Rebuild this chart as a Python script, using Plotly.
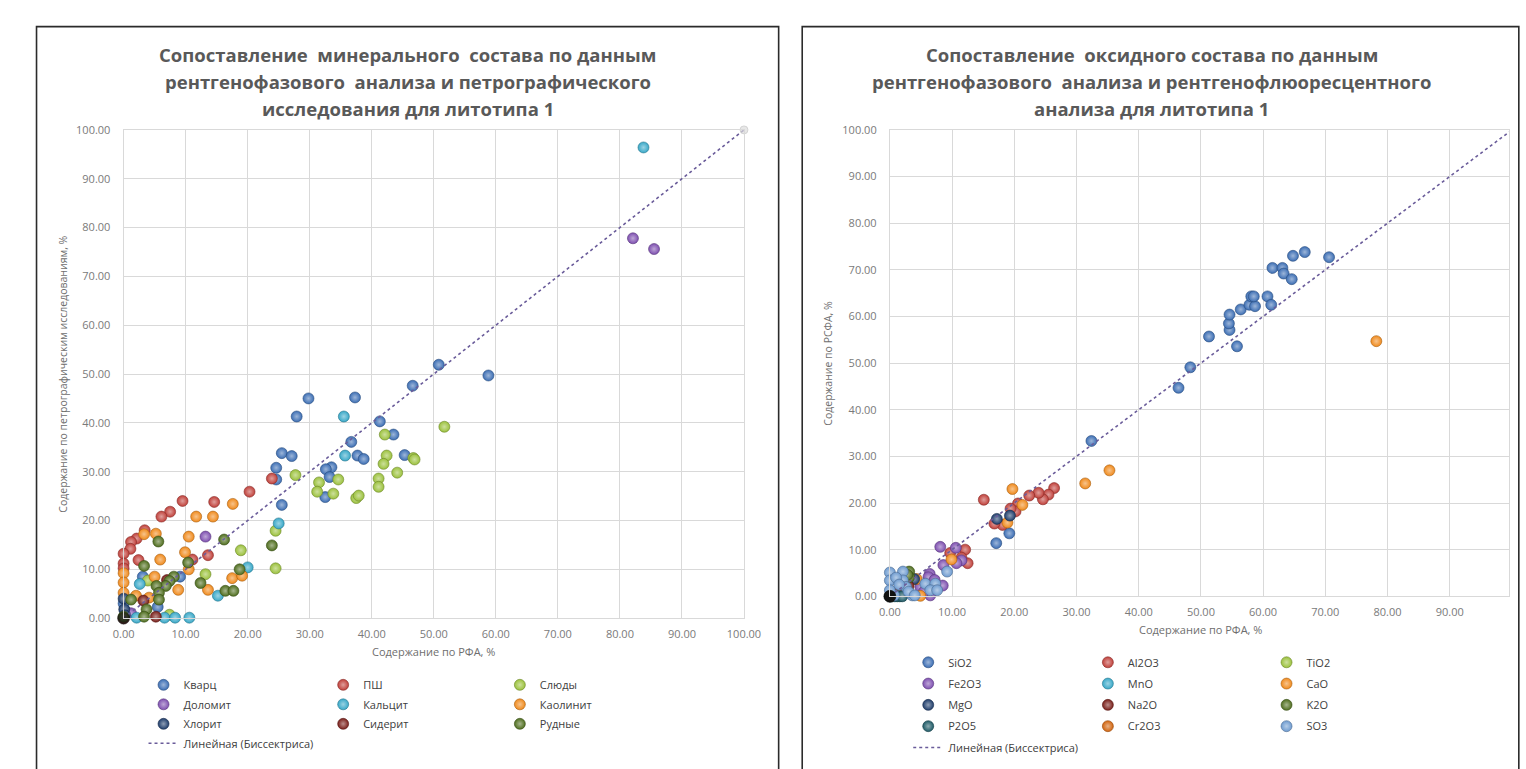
import plotly.graph_objects as go

W, H = 1526, 769

# ---------------- Left chart data (minerals) ----------------
kvarc_x = [29.8, 37.3, 27.9, 41.3, 43.5, 36.7, 25.5, 27.1, 37.7, 38.7, 45.3, 24.6, 24.6, 33.5, 32.6, 33.2, 32.5, 25.5, 9.1, 3.1, 5.5, 46.6, 50.8, 58.8, 0.3, 0.0]
kvarc_y = [45.0, 45.2, 41.3, 40.3, 37.6, 36.1, 33.8, 33.2, 33.3, 32.6, 33.4, 30.8, 28.4, 30.9, 30.5, 28.9, 24.8, 23.2, 8.5, 8.5, 2.3, 47.6, 51.9, 49.7, 1.5, 3.0]
psh_x = [23.9, 20.3, 9.5, 14.6, 7.5, 6.1, 3.4, 2.1, 1.2, 1.1, 0.0, 0.0, 2.4, 13.6, 11.1, 0.0]
psh_y = [28.6, 25.9, 24.0, 23.8, 21.8, 20.8, 18.0, 16.3, 15.6, 14.2, 13.2, 11.2, 11.9, 12.9, 12.0, 10.2]
slud_x = [42.1, 42.4, 41.9, 41.1, 41.1, 44.1, 27.7, 31.5, 34.6, 31.2, 33.8, 37.5, 37.9, 24.5, 18.9, 24.5, 13.2, 3.9, 7.4, 51.7, 46.7, 46.9]
slud_y = [37.6, 33.3, 31.6, 28.6, 26.9, 29.8, 29.3, 27.8, 28.4, 25.9, 25.5, 24.6, 25.1, 17.9, 13.9, 10.2, 9.0, 7.7, 0.7, 39.2, 32.8, 32.5]
dol_x = [13.2, 1.2, 82.1, 85.5]
dol_y = [16.7, 1.0, 77.8, 75.6]
kalc_x = [35.5, 35.7, 25.0, 20.0, 15.2, 2.6, 10.6, 6.6, 8.3, 2.1, 83.8]
kalc_y = [41.3, 33.3, 19.4, 10.4, 4.6, 7.0, 0.1, 0.1, 0.1, 0.1, 96.4]
kaol_x = [17.6, 14.4, 11.7, 10.5, 5.2, 3.3, 9.9, 5.9, 10.5, 17.5, 19.1, 8.8, 13.6, 5.0, 0.0, 0.0, 0.0, 2.0, 4.1]
kaol_y = [23.4, 20.8, 20.8, 16.7, 17.3, 17.2, 13.5, 12.0, 10.0, 8.2, 8.7, 5.8, 5.8, 8.5, 9.2, 7.3, 5.2, 4.6, 4.2]
hlor_x = [0.0, 0.1, 0.2]
hlor_y = [4.0, 1.8, 0.6]
sid_x = [3.2, 5.2, 7.0, 0.0]
sid_y = [3.6, 0.3, 7.8, 0.0]
rud_x = [16.2, 5.6, 3.3, 10.4, 18.7, 12.4, 8.1, 7.4, 6.8, 5.3, 5.7, 5.7, 1.2, 3.7, 3.3, 0.0, 16.4, 17.7, 23.9]
rud_y = [16.1, 15.7, 10.7, 11.4, 10.0, 7.2, 8.5, 7.6, 6.6, 6.6, 5.2, 3.8, 3.8, 1.8, 0.3, 0.3, 5.6, 5.6, 14.9]

# ---------------- Right chart data (oxides) ----------------
sio2_x = [46.4, 48.3, 51.3, 55.8, 54.6, 54.5, 54.6, 56.4, 57.8, 58.7, 58.1, 58.5, 60.7, 61.3, 61.5, 63.1, 63.3, 64.6, 64.8, 66.7, 70.6, 32.4, 17.1, 19.2]
sio2_y = [44.7, 49.1, 55.7, 53.6, 57.1, 58.5, 60.4, 61.5, 62.5, 62.2, 64.3, 64.3, 64.3, 62.5, 70.4, 70.4, 69.2, 68.0, 73.0, 73.8, 72.7, 33.3, 11.4, 13.5]
al2o3_x = [15.1, 26.4, 25.5, 24.6, 23.9, 22.4, 20.6, 20.2, 19.4, 18.1, 16.8, 12.1, 12.5, 9.7, 11.5]
al2o3_y = [20.7, 23.2, 21.8, 20.8, 22.2, 21.6, 19.9, 18.2, 18.8, 15.3, 15.6, 10.0, 7.1, 9.3, 8.3]
tio2_x = [0.5, 0.8, 1.0]
tio2_y = [0.3, 0.6, 0.2]
fe2o3_x = [8.1, 10.6, 11.5, 10.7, 8.6, 6.4, 6.2, 8.5, 6.5, 4.9, 5.5, 7.2]
fe2o3_y = [10.6, 10.4, 7.7, 7.1, 6.7, 4.8, 4.1, 2.3, 0.2, 2.0, 1.0, 3.5]
mno_x = [0.1, 0.2, 0.3, 0.1]
mno_y = [0.1, 0.0, 0.2, 0.0]
cao_x = [78.2, 35.3, 31.4, 19.7, 21.3, 18.9, 9.9, 4.9, 4.3]
cao_y = [54.7, 27.0, 24.2, 23.0, 19.6, 15.8, 7.9, 0.1, 3.7]
mgo_x = [17.2, 19.3, 3.9, 2.0]
mgo_y = [16.6, 17.3, 3.7, 2.5]
na2o_x = [2.5, 3.0, 1.5]
na2o_y = [1.5, 2.2, 0.8]
k2o_x = [3.1, 3.1, 2.8]
k2o_y = [5.3, 4.1, 4.6]
p2o5_x = [0.0, 0.4, 0.8, 1.2, 1.6, 2.0]
p2o5_y = [0.0, 0.0, 0.0, 0.0, 0.0, 0.0]
cr2o3_x = [0.2, 0.4]
cr2o3_y = [0.1, 0.3]
so3_x = [9.2, 0.0, 2.1, 0.0, 2.1, 5.7, 7.3, 6.5, 7.6, 3.6, 2.6, 0.7, 0.0, 1.0, 1.5, 3.0, 4.0]
so3_y = [5.3, 5.1, 5.3, 3.4, 3.4, 2.7, 2.7, 1.3, 1.3, 0.2, 2.0, 0.2, 1.3, 4.0, 2.5, 1.0, 0.2]

bis_x = [0, 100]
bis_y = [0, 100]

ticks = [0, 10, 20, 30, 40, 50, 60, 70, 80, 90, 100]
tick_labels = ["0.00", "10.00", "20.00", "30.00", "40.00", "50.00", "60.00", "70.00", "80.00", "90.00", "100.00"]

left_title_lines = ["Сопоставление  минерального  состава по данным",
                    "рентгенофазового  анализа и петрографического",
                    "исследования для литотипа 1"]
right_title_lines = ["Сопоставление  оксидного состава по данным",
                     "рентгенофазового  анализа и рентгенофлюоресцентного",
                     "анализа для литотипа 1"]
x_title = "Содержание по РФА, %"
left_y_title = "Содержание по петрографическим исследованиям, %"
right_y_title = "Содержание по РСФА, %"
line_name = "Линейная (Биссектриса)"

FONT = "Open Sans"


def lighten(hexc, f):
    hexc = hexc.lstrip('#')
    r, g, b = int(hexc[0:2], 16), int(hexc[2:4], 16), int(hexc[4:6], 16)
    r = int(r + (255 - r) * f); g = int(g + (255 - g) * f); b = int(b + (255 - b) * f)
    return '#%02x%02x%02x' % (r, g, b)


def darken(hexc, f):
    hexc = hexc.lstrip('#')
    r, g, b = int(hexc[0:2], 16), int(hexc[2:4], 16), int(hexc[4:6], 16)
    return '#%02x%02x%02x' % (int(r * (1 - f)), int(g * (1 - f)), int(b * (1 - f)))


fig = go.Figure()


def add_series(name, xs, ys, color, xa, ya, legend, rank):
    fig.add_trace(go.Scatter(
        x=xs, y=ys, mode="markers", name=name, xaxis=xa, yaxis=ya,
        legend=legend, legendgroup=name, legendrank=rank, cliponaxis=False,
        marker=dict(size=11, color=color,
                    gradient=dict(type="radial", color=lighten(color, 0.5)),
                    line=dict(width=0.6, color=darken(color, 0.3))),
    ))


left_series = [
    ("Кварц", kvarc_x, kvarc_y, "#3C6EB4", "legend", 1),
    ("ПШ", psh_x, psh_y, "#C0403A", "legend2", 1),
    ("Слюды", slud_x, slud_y, "#9BC13C", "legend3", 1),
    ("Доломит", dol_x, dol_y, "#7E4FB0", "legend", 2),
    ("Кальцит", kalc_x, kalc_y, "#38A8C8", "legend2", 2),
    ("Каолинит", kaol_x, kaol_y, "#F08A1C", "legend3", 2),
    ("Хлорит", hlor_x, hlor_y, "#1F3D6B", "legend", 3),
    ("Сидерит", sid_x, sid_y, "#7A1F1A", "legend2", 3),
    ("Рудные", rud_x, rud_y, "#4F6E1E", "legend3", 3),
]
for n, xs, ys, c, lg, rk in left_series:
    add_series(n, xs, ys, c, "x", "y", lg, rk)

fig.add_trace(go.Scatter(x=bis_x, y=bis_y, mode="lines", name=line_name, xaxis="x", yaxis="y",
                         legend="legend", legendgroup="linL", legendrank=4,
                         line=dict(color="#6A5C9A", width=1.6, dash="dot")))
fig.add_trace(go.Scatter(x=bis_x, y=bis_y, mode="markers", showlegend=False, xaxis="x", yaxis="y",
                         cliponaxis=False,
                         marker=dict(size=[12, 8], color=["#111111", "#dddddd"],
                                     line=dict(width=0.6, color=["#000000", "#aaaaaa"]))))

right_series = [
    ("SiO2", sio2_x, sio2_y, "#3C6EB4", "legend4", 1),
    ("Al2O3", al2o3_x, al2o3_y, "#C0403A", "legend5", 1),
    ("TiO2", tio2_x, tio2_y, "#9BC13C", "legend6", 1),
    ("Fe2O3", fe2o3_x, fe2o3_y, "#7E4FB0", "legend4", 2),
    ("MnO", mno_x, mno_y, "#38A8C8", "legend5", 2),
    ("CaO", cao_x, cao_y, "#F08A1C", "legend6", 2),
    ("MgO", mgo_x, mgo_y, "#1F3D6B", "legend4", 3),
    ("Na2O", na2o_x, na2o_y, "#7A1F1A", "legend5", 3),
    ("K2O", k2o_x, k2o_y, "#4F6E1E", "legend6", 3),
    ("P2O5", p2o5_x, p2o5_y, "#1E5A66", "legend4", 4),
    ("Cr2O3", cr2o3_x, cr2o3_y, "#D2650F", "legend5", 4),
    ("SO3", so3_x, so3_y, "#6E9BD0", "legend6", 4),
]
for n, xs, ys, c, lg, rk in right_series:
    add_series(n, xs, ys, c, "x2", "y2", lg, rk)

fig.add_trace(go.Scatter(x=bis_x, y=bis_y, mode="lines", name=line_name, xaxis="x2", yaxis="y2",
                         legend="legend4", legendgroup="linR", legendrank=5,
                         line=dict(color="#6A5C9A", width=1.6, dash="dot")))
fig.add_trace(go.Scatter(x=bis_x[:1], y=bis_y[:1], mode="markers", showlegend=False, xaxis="x2", yaxis="y2",
                         cliponaxis=False,
                         marker=dict(size=12, color="#111111", line=dict(width=0.6, color="#000000"))))


def fx(px):
    return px / W


def fy(py):
    return 1 - py / H


grid = "#D9D9D9"
tickfont = dict(family=FONT, size=11, color="#7a7a7a")


def axis(domain, rng, anchor, standoff):
    return dict(domain=domain, range=rng, anchor=anchor, tickmode="array", tickvals=ticks,
                ticktext=tick_labels, showgrid=True, gridcolor=grid, gridwidth=1,
                showline=True, linecolor=grid, linewidth=1, mirror=True, zeroline=False,
                ticks="", tickfont=tickfont, ticklabelstandoff=standoff, fixedrange=True)


right_xmax = 100 * (W - 895.3) / (1529 - 895.3)

leg_font = dict(family=FONT, size=11, color="#404040")


def legend_at(marker_px, row1_py, gap):
    return dict(x=fx(marker_px - 20), y=fy(row1_py - 14.5), xanchor="left", yanchor="top",
                orientation="v", bgcolor="rgba(0,0,0,0)", borderwidth=0, font=leg_font,
                tracegroupgap=gap, traceorder="grouped", itemclick=False, itemdoubleclick=False)


title_font = dict(family=FONT, size=18.5, color="#595959", weight="bold")
title_rows = [47, 75, 103]
annotations = []
for lines, cx in ((left_title_lines, 404), (right_title_lines, 1162)):
    for txt, ry in zip(lines, title_rows):
        annotations.append(dict(text=txt, x=fx(cx), y=fy(ry), xref="paper", yref="paper",
                                showarrow=False, xanchor="center", yanchor="middle", font=title_font))

axis_title_font = dict(family=FONT, size=11, color="#6e6e6e")
annotations += [
    dict(text=x_title, x=fx(430.7), y=fy(656), xref="paper", yref="paper", showarrow=False,
         xanchor="center", yanchor="middle", font=axis_title_font),
    dict(text=x_title, x=fx(1212), y=fy(634), xref="paper", yref="paper", showarrow=False,
         xanchor="center", yanchor="middle", font=axis_title_font),
    dict(text=left_y_title, x=fx(53), y=fy(374), xref="paper", yref="paper", showarrow=False,
         textangle=-90, xanchor="center", yanchor="middle",
         font=dict(family=FONT, size=10.5, color="#6e6e6e")),
    dict(text=right_y_title, x=fx(832), y=fy(362), xref="paper", yref="paper", showarrow=False,
         textangle=-90, xanchor="center", yanchor="middle",
         font=dict(family=FONT, size=10.5, color="#6e6e6e")),
]

fig.update_layout(
    width=W, height=H, margin=dict(l=0, r=0, t=0, b=0),
    paper_bgcolor="white", plot_bgcolor="white",
    xaxis=axis([fx(114.7), fx(746.7)], [0, 100], "y", 6),
    yaxis=axis([fy(622.3), fy(124.3)], [0, 100], "x", 10),
    xaxis2=axis([fx(895.3), 1.0], [0, right_xmax], "y2", 6),
    yaxis2=axis([fy(600), fy(124.3)], [0, 100], "x2", 10),
    legend=legend_at(155, 690, 0.5),
    legend2=legend_at(338, 690, 0.5),
    legend3=legend_at(518, 690, 0.5),
    legend4=legend_at(934, 667, 2.3),
    legend5=legend_at(1117, 667, 2.3),
    legend6=legend_at(1299, 667, 2.3),
    shapes=[
        dict(type="rect", xref="paper", yref="paper", x0=fx(26), x1=fx(782), y0=fy(H + 10), y1=fy(19),
             line=dict(color="#2b2b2b", width=1.6), fillcolor="rgba(0,0,0,0)", layer="above"),
        dict(type="rect", xref="paper", yref="paper", x0=fx(806), x1=fx(W + 10), y0=fy(H + 10), y1=fy(19),
             line=dict(color="#2b2b2b", width=1.6), fillcolor="rgba(0,0,0,0)", layer="above"),
    ],
    annotations=annotations,
)

post = (
    "document.documentElement.style.margin='0';"
    "document.documentElement.style.overflow='hidden';"
    "document.body.style.margin='0';document.body.style.padding='0';"
    "document.body.style.overflow='hidden';"
    "var g=document.querySelector('.plotly-graph-div');"
    "if(g){g.style.position='fixed';g.style.left='0px';g.style.top='0px';}"
)

fig.write_html("out.html", config={"displayModeBar": False}, post_script=post)
